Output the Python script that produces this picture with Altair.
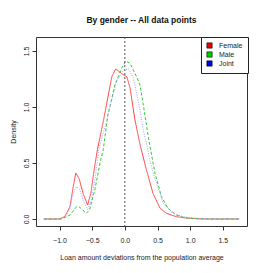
import altair as alt
import pandas as pd

series_names = ["Female", "Male", "Joint"]
legend_colors = ["#ee0000", "#00cd00", "#0000ee"]
line_colors = ["#ff4040", "#33c833", "#a0a0f8"]
line_dashes = [[1, 0], [3, 2], [1, 1.5]]

female_x = [-1.24, -1.0, -0.92, -0.84, -0.79, -0.75, -0.70, -0.64, -0.57, -0.52, -0.47, -0.42, -0.33,
            -0.20, -0.14, -0.03, 0.03, 0.08, 0.15, 0.23, 0.33, 0.43, 0.54, 0.64, 0.79, 0.95, 1.1, 1.3, 1.75]
female_y = [0, 0, 0.02, 0.11, 0.29, 0.41, 0.36, 0.23, 0.125, 0.23, 0.44, 0.62, 0.87,
            1.27, 1.34, 1.29, 1.27, 1.17, 0.90, 0.67, 0.44, 0.23, 0.095, 0.05, 0.02, 0.008, 0.003, 0, 0]

male_x = [-1.24, -0.97, -0.84, -0.74, -0.69, -0.59, -0.54, -0.46, -0.38, -0.33, -0.26, -0.15, -0.05,
          0.015, 0.08, 0.18, 0.23, 0.28, 0.36, 0.46, 0.56, 0.66, 0.79, 0.9, 1.0, 1.2, 1.75]
male_y = [0, 0, 0.035, 0.11, 0.105, 0.05, 0.08, 0.26, 0.50, 0.62, 0.93, 1.20, 1.345,
          1.41, 1.39, 1.27, 1.20, 1.03, 0.73, 0.41, 0.20, 0.095, 0.035, 0.015, 0.005, 0, 0]

joint_x = [-1.24, -1.0, -0.90, -0.84, -0.79, -0.74, -0.69, -0.64, -0.57, -0.51, -0.45, -0.40, -0.28,
           -0.13, -0.03, 0.05, 0.13, 0.18, 0.23, 0.28, 0.33, 0.38, 0.46, 0.59, 0.74, 0.9, 1.05, 1.2, 1.75]
joint_y = [0, 0, 0.03, 0.10, 0.23, 0.29, 0.26, 0.17, 0.085, 0.17, 0.38, 0.62, 0.87,
           1.23, 1.32, 1.345, 1.26, 1.12, 0.98, 0.80, 0.68, 0.53, 0.36, 0.14, 0.05, 0.02, 0.01, 0.003, 0]

x_ticks = [-1.0, -0.5, 0.0, 0.5, 1.0, 1.5]
y_ticks = [0.0, 0.5, 1.0, 1.5]
ref_line = [0.0]

rows = []
for name, xs, ys in [("Female", female_x, female_y), ("Male", male_x, male_y), ("Joint", joint_x, joint_y)]:
    for i, (a, b) in enumerate(zip(xs, ys)):
        rows.append({"series": name, "x": a, "y": b, "i": i})
df = pd.DataFrame(rows)

font = "Liberation Sans"
txt = "#222222"

x_enc = alt.X("x:Q", scale=alt.Scale(domain=[-1.36, 1.87], nice=False, zero=False),
              axis=alt.Axis(values=x_ticks, format=".1f", title="Loan amount deviations from the population average",
                            grid=False, domain=False, tickSize=4, tickColor="#333", labelFontSize=7,
                            labelFont=font, titleFont=font, titleFontSize=7, titleFontWeight="normal",
                            labelPadding=6, titlePadding=10, labelColor=txt, titleColor=txt))
y_enc = alt.Y("y:Q", scale=alt.Scale(domain=[-0.0625, 1.625], nice=False, zero=False),
              axis=alt.Axis(values=y_ticks, format=".1f", title="Density", grid=False, domain=False,
                            tickSize=4, tickColor="#333", labelFontSize=7, labelAngle=270,
                            labelFont=font, titleFont=font, titleFontSize=7, titleFontWeight="normal",
                            labelPadding=3, titlePadding=6, labelColor=txt, titleColor=txt))

layers = []
for name, col, dash in zip(series_names, line_colors, line_dashes):
    layers.append(
        alt.Chart(df).transform_filter(alt.datum.series == name)
        .mark_line(strokeWidth=1, clip=True, color=col, strokeDash=dash)
        .encode(x=x_enc, y=y_enc, order="i:Q")
    )

squares = alt.Chart(df).mark_square(filled=True, opacity=1).encode(
    x="x:Q", y="y:Q",
    fill=alt.Fill("series:N", scale=alt.Scale(domain=series_names, range=legend_colors),
                  legend=alt.Legend(title=None, orient="none", legendX=165, legendY=0, padding=5,
                                    strokeColor="#222", fillColor="white", symbolType="square",
                                    symbolSize=28, symbolStrokeColor="black", symbolStrokeWidth=0.6,
                                    symbolOpacity=1,
                                    labelFontSize=7, labelFont=font, labelColor=txt, rowPadding=0,
                                    labelOffset=6)),
).transform_filter("datum.y < -100")

vline = alt.Chart(pd.DataFrame({"x": ref_line})).mark_rule(color="#555", strokeDash=[2, 2], strokeWidth=1).encode(
    x="x:Q"
)

chart = alt.layer(*layers, squares, vline).properties(
    width=211, height=189,
    title=alt.TitleParams("By gender -- All data points", fontSize=8.5, font=font, fontWeight="bold",
                          anchor="middle", offset=12, color="#111"),
    autosize=alt.AutoSizeParams(type="none"),
    padding={"left": 28, "top": 29, "right": 11, "bottom": 39},
).configure_view(stroke="#333", strokeWidth=1)

chart.save("out.html", embed_options={"renderer": "svg", "actions": False})
